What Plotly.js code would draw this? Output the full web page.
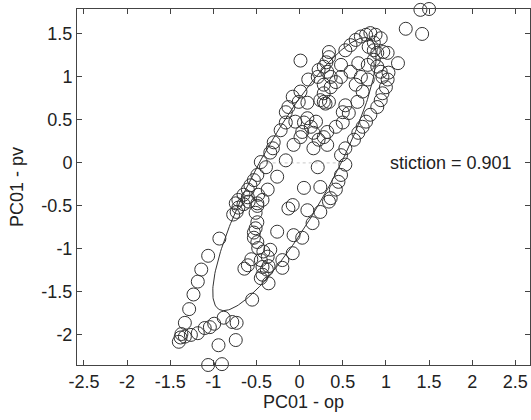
<!DOCTYPE html>
<html>
<head>
<meta charset="utf-8">
<script src="https://cdn.plot.ly/plotly-3.0.1.min.js"></script>
<style>
  html, body { margin: 0; padding: 0; background: #fff; }
  #chart { width: 531px; height: 420px; }
</style>
</head>
<body>
<div id="chart"></div>
<script>
// Controller output (op) vs. process variable (pv), first principal component
const opVals = [
  -1.40, -1.38, -1.33, -1.37, -1.26, -1.18, -1.10, -1.04, -0.99, -0.88,
  -0.78, -0.73, -0.94, -0.74, -1.06, -0.90, -1.33, -1.28, -1.23, -1.18,
  -1.14, -1.06, -0.93, -0.55, -0.77, -0.73, -0.71, -0.65, -0.59, -0.49,
  -0.51, -0.49, -0.51, -0.53, -0.53, -0.49, -0.48, -0.42, -0.37, -0.45,
  -0.56, -0.60, -0.64, -0.43, -0.38, -0.36, -0.45, -0.36, -0.34, -0.43,
  -0.13, 0.09, 0.24, 0.34, 0.15, -0.26, -0.07, 0.03, -0.08, -0.20,
  -0.20, -0.08, 0.05, 0.24, 0.21, 0.36, 0.42, 0.45, 0.48, 0.53,
  0.48, 0.53, 0.63, 0.68, 0.73, 0.77, 0.82, 0.90, 0.94, 0.96,
  1.00, 1.02, 1.03, 1.14, 1.02, 0.53, 0.59, 0.65, 0.71, 0.77,
  0.82, 0.88, 0.94, 0.80, 0.86, 0.86, 0.90, 0.97, 0.86, 0.68,
  0.79, 0.90, 0.94, 0.96, 0.71, 0.59, 0.48, 0.48, 0.42, 0.36,
  0.28, 0.65, 0.79, 0.73, 0.67, 0.53, 0.50, 0.57, 0.50, 0.42,
  0.32, 0.28, 0.22, 0.16, 0.13, 0.09, 0.19, 0.03, -0.07, 0.16,
  0.32, 0.01, 0.34, 0.34, 0.31, 0.28, 0.32, 0.22, 0.21, 0.10,
  0.36, 0.28, 0.01, -0.08, -0.01, -0.13, 0.09, 0.24, 0.28, 0.30,
  0.34, -0.16, -0.16, -0.05, 0.05, 0.01, -0.30, -0.31, -0.34, -0.45,
  -0.39, -0.16, -0.26, -0.49, -0.53, -0.57, -0.60, -0.65, -0.71, -0.74,
  -0.60, -0.48, -0.43, -0.37, -0.49, -0.22, 1.40, 1.50, 1.23, 1.42
];
const pvVals = [
  -2.08, -2.03, -2.02, -1.99, -2.00, -1.98, -1.92, -1.91, -1.87, -1.80,
  -1.85, -1.86, -2.12, -2.06, -2.35, -2.34, -1.86, -1.70, -1.53, -1.38,
  -1.24, -1.08, -0.88, -1.59, -0.60, -0.57, -0.52, -0.48, -0.45, -0.50,
  -0.58, -0.69, -0.76, -0.81, -0.87, -0.92, -0.99, -1.03, -1.09, -1.13,
  -1.12, -1.19, -1.23, -1.21, -1.24, -1.20, -1.34, -1.40, -1.01, -1.30,
  -0.53, -0.55, -0.57, -0.45, -0.70, -0.80, -0.84, -0.87, -1.05, -1.13,
  -1.22, -0.49, -0.29, -0.28, -0.05, -0.41, -0.31, -0.22, -0.14, -0.02,
  0.09, 0.17, 0.27, 0.35, 0.42, 0.48, 0.56, 0.65, 0.73, 0.81,
  0.88, 0.97, 1.05, 1.16, 1.28, 1.31, 1.37, 1.43, 1.47, 1.49,
  1.51, 1.49, 1.45, 1.35, 1.40, 1.31, 1.28, 1.29, 1.20, 1.16,
  1.14, 1.12, 1.06, 1.00, 1.00, 1.06, 1.00, 1.14, 0.94, 0.88,
  0.81, 0.91, 0.97, 0.83, 0.71, 0.67, 0.59, 0.58, 0.47, 0.42,
  0.36, 0.30, 0.27, 0.35, 0.42, 0.52, 0.48, 0.36, 0.21, 0.17,
  0.21, 1.19, 1.29, 1.23, 1.17, 1.12, 1.06, 1.08, 1.00, 0.97,
  1.00, 0.91, 0.83, 0.77, 0.71, 0.65, 0.70, 0.73, 0.71, 0.69,
  0.71, 0.59, 0.47, 0.48, 0.47, 0.30, 0.24, 0.17, 0.12, 0.01,
  -0.05, 0.03, -0.16, -0.14, -0.20, -0.26, -0.31, -0.37, -0.43, -0.47,
  -0.40, -0.37, -0.43, -0.31, -0.47, 0.38, 1.78, 1.79, 1.56, 1.50
];

// Fitted ellipse parameters
const ellipseCenter = [-0.06, -0.13];
const ellipseSemiMajor = 1.80;
const ellipseSemiMinor = 0.42;
const ellipseAngleDeg = 61;

// Estimated stiction (width of the cycle along op at pv = 0)
const stiction = 0.901;
const stictionRightEnd = 0.45;

// Axis ticks
const xTickVals = [-2.5, -2, -1.5, -1, -0.5, 0, 0.5, 1, 1.5, 2, 2.5];
const xTickText = ['-2.5', '-2', '-1.5', '-1', '-0.5', '0', '0.5', '1', '1.5', '2', '2.5'];
const yTickVals = [-2, -1.5, -1, -0.5, 0, 0.5, 1, 1.5];
const yTickText = ['-2', '-1.5', '-1', '-0.5', '0', '0.5', '1', '1.5'];

// Trace the ellipse outline from its parameters
const ellX = [], ellY = [];
const th = ellipseAngleDeg * Math.PI / 180;
for (let i = 0; i <= 240; i++) {
  const t = 2 * Math.PI * i / 240;
  const u = ellipseSemiMajor * Math.cos(t);
  const v = ellipseSemiMinor * Math.sin(t);
  ellX.push(ellipseCenter[0] + u * Math.cos(th) - v * Math.sin(th));
  ellY.push(ellipseCenter[1] + u * Math.sin(th) + v * Math.cos(th));
}

const ink = '#333333';
const textColor = '#222222';
const fontFamily = '"Liberation Sans", Arial, Helvetica, sans-serif';

const traces = [
  {
    x: [stictionRightEnd - stiction, stictionRightEnd],
    y: [0, 0],
    mode: 'lines',
    line: { color: '#c8c8c8', width: 1, dash: 'dot' },
    hoverinfo: 'skip',
    showlegend: false
  },
  {
    x: opVals,
    y: pvVals,
    mode: 'markers',
    marker: { symbol: 'circle-open', size: 13, color: ink, line: { width: 1, color: ink } },
    cliponaxis: false,
    showlegend: false
  },
  {
    x: ellX,
    y: ellY,
    mode: 'lines',
    line: { color: ink, width: 1 },
    hoverinfo: 'skip',
    showlegend: false
  }
];

const axisCommon = {
  showgrid: false,
  zeroline: false,
  showline: true,
  mirror: 'ticks',
  linecolor: '#444444',
  linewidth: 1,
  ticks: 'inside',
  ticklen: 5,
  tickwidth: 1,
  tickcolor: '#444444',
  tickmode: 'array',
  tickfont: { family: fontFamily, size: 18, color: textColor }
};

const layout = {
  width: 531,
  height: 420,
  margin: { l: 77, r: 1, t: 9, b: 55 },
  paper_bgcolor: '#ffffff',
  plot_bgcolor: '#ffffff',
  font: { family: fontFamily, size: 18, color: textColor },
  xaxis: Object.assign({}, axisCommon, {
    range: [-2.58, 2.67],
    tickvals: xTickVals,
    ticktext: xTickText,
    title: { text: 'PC01 - op', font: { family: fontFamily, size: 18, color: textColor }, standoff: 4 }
  }),
  yaxis: Object.assign({}, axisCommon, {
    range: [-2.35, 1.79],
    tickvals: yTickVals,
    ticktext: yTickText,
    title: { text: 'PC01 - pv', font: { family: fontFamily, size: 18, color: textColor }, standoff: 13 }
  }),
  annotations: [
    {
      x: 1.02, y: 0, xref: 'x', yref: 'y',
      xanchor: 'left', yanchor: 'middle',
      text: 'stiction = ' + stiction.toFixed(3),
      showarrow: false,
      font: { family: fontFamily, size: 18, color: textColor }
    }
  ]
};

Plotly.newPlot('chart', traces, layout, { displayModeBar: false, staticPlot: true });
</script>
</body>
</html>
